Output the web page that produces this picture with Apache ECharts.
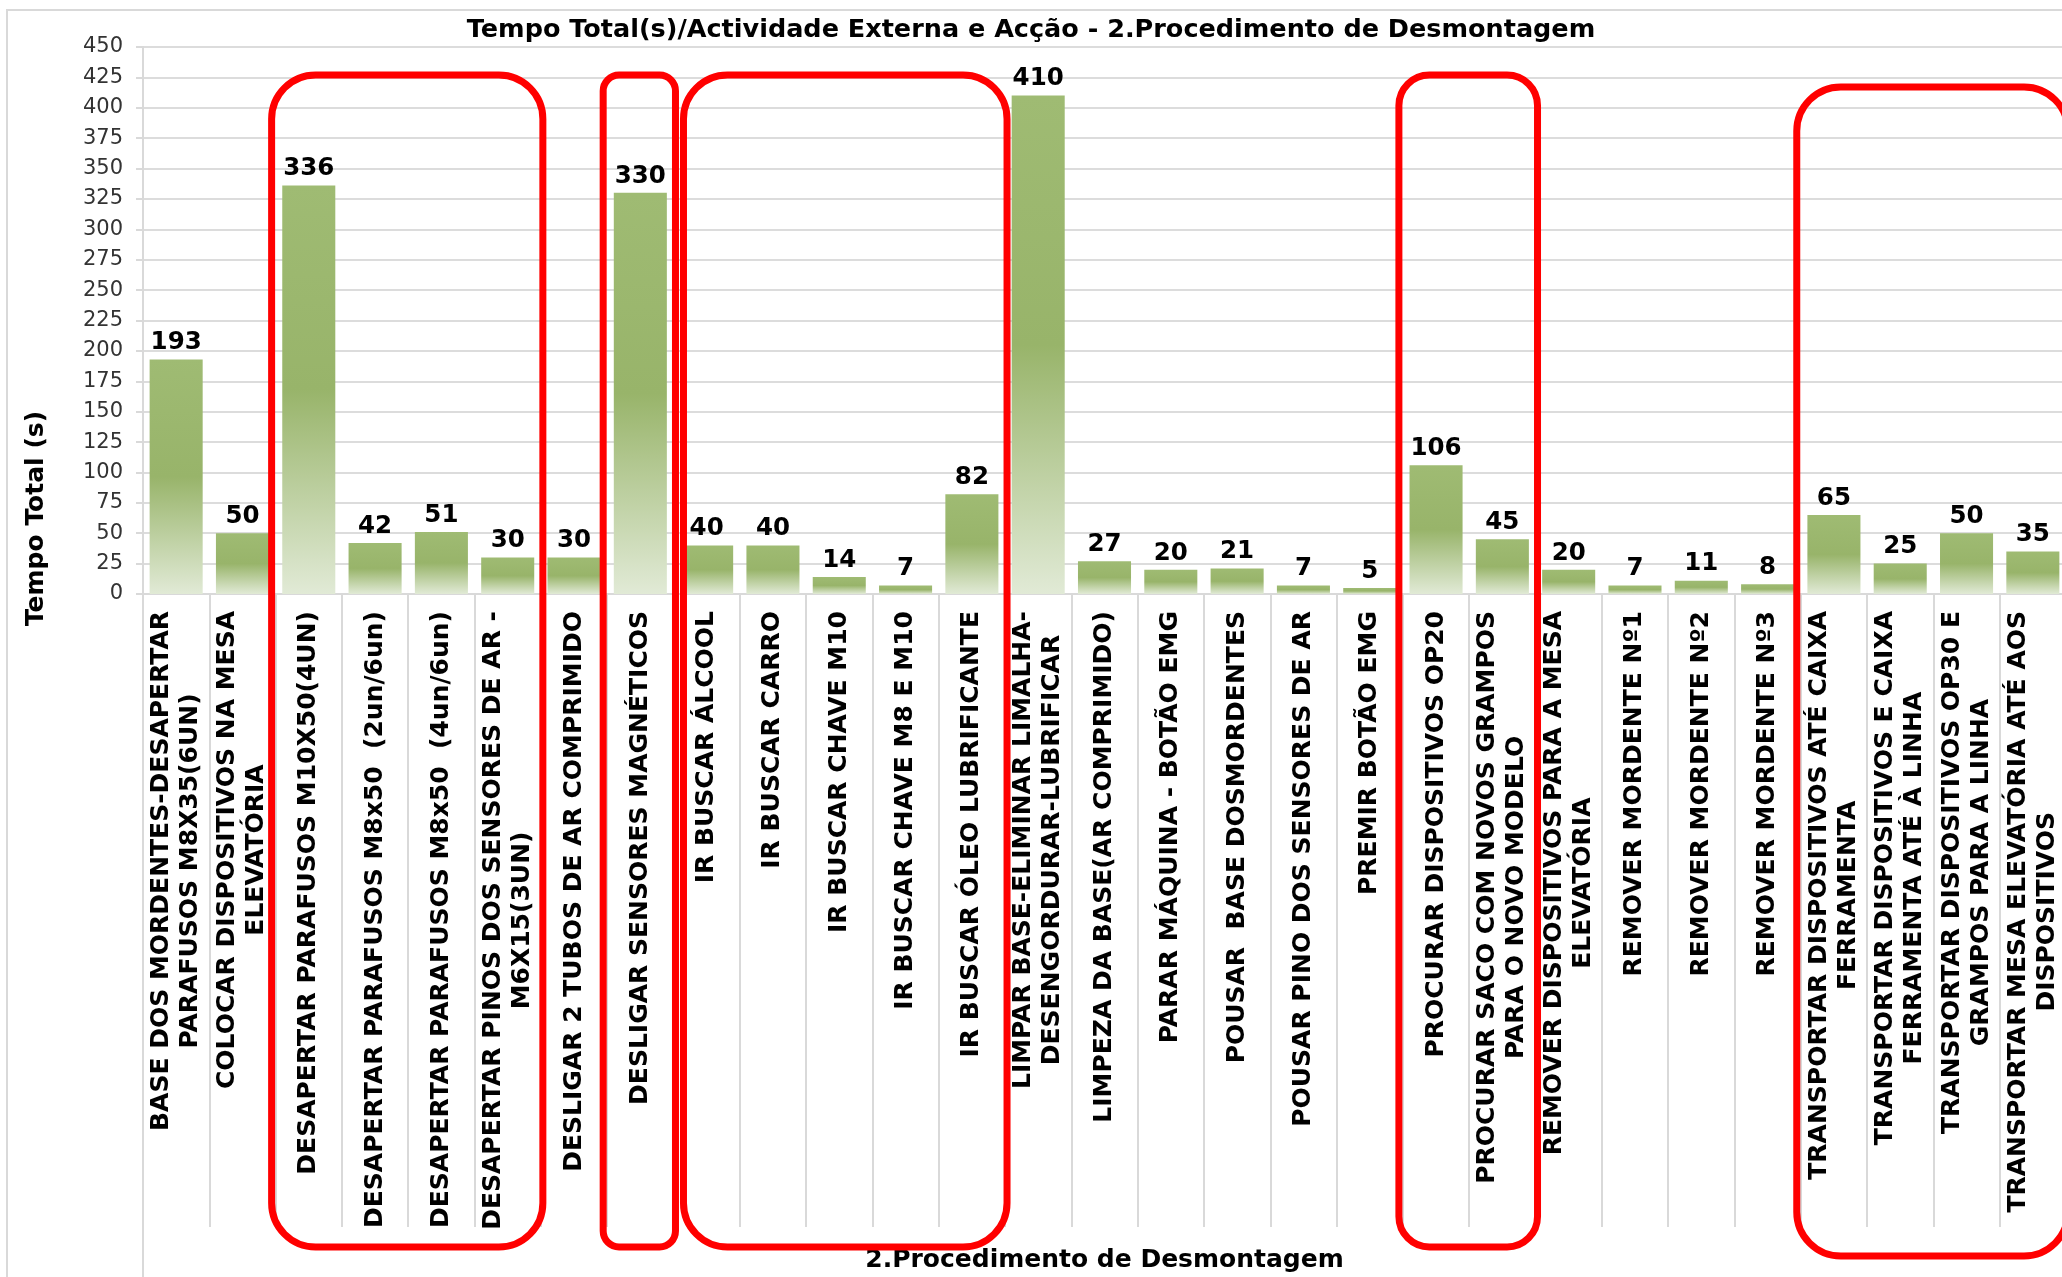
<!DOCTYPE html>
<html>
<head>
<meta charset="utf-8">
<script src="https://cdn.jsdelivr.net/npm/echarts@6/dist/echarts.min.js"></script>
<style>
html,body{margin:0;padding:0;background:#fff;}
#main{width:2062px;height:1277px;}
</style>
</head>
<body>
<div id="main"></div>
<script>
const titleText = 'Tempo Total(s)/Actividade Externa e Acção - 2.Procedimento de Desmontagem';
const yAxisName = 'Tempo Total (s)';
const outerCategory = ['2.Procedimento de Desmontagem'];
const categories = [
  'BASE DOS MORDENTES-DESAPERTAR\nPARAFUSOS M8X35(6UN)',
  'COLOCAR DISPOSITIVOS NA MESA\nELEVATÓRIA',
  'DESAPERTAR PARAFUSOS M10X50(4UN)',
  'DESAPERTAR PARAFUSOS M8x50  (2un/6un)',
  'DESAPERTAR PARAFUSOS M8x50  (4un/6un)',
  'DESAPERTAR PINOS DOS SENSORES DE AR -\nM6X15(3UN)',
  'DESLIGAR 2 TUBOS DE AR COMPRIMIDO',
  'DESLIGAR SENSORES MAGNÉTICOS',
  'IR BUSCAR ÁLCOOL',
  'IR BUSCAR CARRO',
  'IR BUSCAR CHAVE M10',
  'IR BUSCAR CHAVE M8 E M10',
  'IR BUSCAR ÓLEO LUBRIFICANTE',
  'LIMPAR BASE-ELIMINAR LIMALHA-\nDESENGORDURAR-LUBRIFICAR',
  'LIMPEZA DA BASE(AR COMPRIMIDO)',
  'PARAR MÁQUINA - BOTÃO EMG',
  'POUSAR  BASE DOSMORDENTES',
  'POUSAR PINO DOS SENSORES DE AR',
  'PREMIR BOTÃO EMG',
  'PROCURAR DISPOSITIVOS OP20',
  'PROCURAR SACO COM NOVOS GRAMPOS\nPARA O NOVO MODELO',
  'REMOVER DISPOSITIVOS PARA A MESA\nELEVATÓRIA',
  'REMOVER MORDENTE Nº1',
  'REMOVER MORDENTE Nº2',
  'REMOVER MORDENTE Nº3',
  'TRANSPORTAR DISPOSITIVOS ATÉ CAIXA\nFERRAMENTA',
  'TRANSPORTAR DISPOSITIVOS E CAIXA\nFERRAMENTA ATÉ À LINHA',
  'TRANSPORTAR DISPOSITIVOS OP30 E\nGRAMPOS PARA A LINHA',
  'TRANSPORTAR MESA ELEVATÓRIA ATÉ AOS\nDISPOSITIVOS'
];
const values = [193, 50, 336, 42, 51, 30, 30, 330, 40, 40, 14, 7, 82, 410, 27, 20, 21, 7, 5, 106, 45, 20, 7, 11, 8, 65, 25, 50, 35];
const yMin = 0, yMax = 450, yStep = 25;
// highlighted category groups (first index, last index)
const highlightGroups = [[2, 5], [7, 7], [8, 12], [19, 20], [25, 28]];

const FONT = 'DejaVu Sans';
const chart = echarts.init(document.getElementById('main'), null, {renderer: 'canvas'});

const option = {
  backgroundColor: '#ffffff',
  animation: false,
  title: {
    text: titleText,
    left: 'center',
    top: 12,
    textStyle: {fontFamily: FONT, fontWeight: 'bold', fontSize: 25.5, color: '#000'}
  },
  grid: {
    left: 143, top: 47, right: -4, bottom: 683,
    containLabel: false,
    outerBoundsMode: 'none'
  },
  xAxis: [
    {
      type: 'category',
      position: 'bottom',
      data: categories,
      axisLine: {show: true, lineStyle: {color: '#d9d9d9', width: 2}},
      axisTick: {show: true, length: 633, alignWithLabel: false, lineStyle: {color: '#d9d9d9', width: 2}},
      axisLabel: {
        interval: 0,
        rotate: 90,
        margin: 17,
        formatter: function (v) {
          return v.split('\n').map(function (l) { return '{c|' + l + '}'; }).join('\n');
        },
        rich: {
          c: {align: 'center', fontFamily: FONT, fontWeight: 'bold', fontSize: 25, lineHeight: 29, color: '#000'}
        }
      }
    },
    {
      type: 'category',
      position: 'bottom',
      data: outerCategory,
      axisLine: {show: false},
      axisTick: {show: true, length: 720, lineStyle: {color: '#d9d9d9', width: 2}},
      axisLabel: {
        interval: 0,
        margin: 654,
        fontFamily: FONT, fontWeight: 'bold', fontSize: 25, color: '#000'
      }
    }
  ],
  yAxis: {
    type: 'value',
    min: yMin, max: yMax, interval: yStep,
    name: yAxisName,
    nameLocation: 'middle',
    nameGap: 94,
    nameTextStyle: {fontFamily: FONT, fontWeight: 'bold', fontSize: 25, color: '#000', padding: [0, 396, 0, 0]},
    axisLine: {show: true, lineStyle: {color: '#d9d9d9', width: 2}},
    axisTick: {show: true, length: 7, lineStyle: {color: '#d9d9d9', width: 2}},
    axisLabel: {margin: 20, fontFamily: FONT, fontSize: 21, color: '#333'},
    splitLine: {show: true, lineStyle: {color: '#dcdcdc', width: 2}}
  },
  series: [{
    type: 'bar',
    xAxisIndex: 0,
    data: values,
    barCategoryGap: '20%',
    itemStyle: {
      color: new echarts.graphic.LinearGradient(0, 0, 0, 1, [
        {offset: 0, color: '#9fbb73'},
        {offset: 0.5, color: '#98b46a'},
        {offset: 1, color: '#e1ead6'}
      ])
    },
    label: {
      show: true, position: 'top', distance: 4,
      fontFamily: FONT, fontWeight: 'bold', fontSize: 24.5, color: '#000'
    }
  }]
};
chart.setOption(option);

function drawAnnotations() {
  const c0 = chart.convertToPixel({xAxisIndex: 0}, 0);
  const c1 = chart.convertToPixel({xAxisIndex: 0}, 1);
  const band = c1 - c0;
  const graphics = [];
  // chart area border
  graphics.push({
    type: 'rect', silent: true, z: 0,
    shape: {x: 7, y: 10, width: 2200, height: 1400},
    style: {fill: 'none', stroke: '#d9d9d9', lineWidth: 2}
  });
  highlightGroups.forEach(function (g, i) {
    const adjacent = i > 0 && highlightGroups[i - 1][1] === g[0] - 1;
    const bandStart = chart.convertToPixel({xAxisIndex: 0}, g[0]) - band / 2;
    const left = adjacent ? bandStart + 10 : bandStart - 4;
    const right = chart.convertToPixel({xAxisIndex: 0}, g[1]) + band / 2 + 2;
    const last = i === highlightGroups.length - 1;
    const top = last ? 87 : 75;
    const bottom = last ? 1256 : 1247;
    const w = right - left;
    const r = Math.min(44, w * 0.22);
    graphics.push({
      type: 'rect', silent: true, z: 100,
      shape: {x: left, y: top, width: w, height: bottom - top, r: r},
      style: {fill: 'none', stroke: '#ff0000', lineWidth: 7}
    });
  });
  chart.setOption({graphic: graphics});
}
drawAnnotations();
</script>
</body>
</html>
